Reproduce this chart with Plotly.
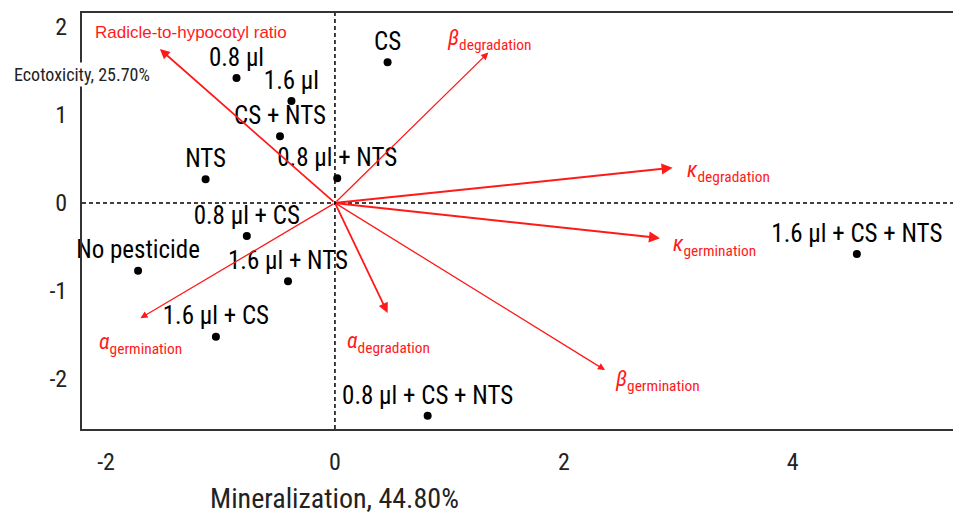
import plotly.graph_objects as go

# ---- data ----
sample_names = ["CS", "0.8 µl", "1.6 µl", "CS + NTS", "0.8 µl + NTS", "NTS",
                "0.8 µl + CS", "No pesticide", "1.6 µl + NTS", "1.6 µl + CS",
                "0.8 µl + CS + NTS", "1.6 µl + CS + NTS"]
sample_x = [0.46, -0.86, -0.38, -0.48, 0.02, -1.13, -0.77, -1.72, -0.41, -1.04, 0.81, 4.56]
sample_y = [1.60, 1.42, 1.16, 0.76, 0.28, 0.27, -0.375, -0.77, -0.89, -1.52, -2.42, -0.58]

vector_names = ["Radicle-to-hypocotyl ratio",
                "<i>β</i><sub>degradation</sub>",
                "<i>κ</i><sub>degradation</sub>",
                "<i>κ</i><sub>germination</sub>",
                "<i>β</i><sub>germination</sub>",
                "<i>α</i><sub>degradation</sub>",
                "<i>α</i><sub>germination</sub>"]
vector_x = [-1.53, 1.34, 2.95, 2.84, 2.36, 0.46, -1.70]
vector_y = [1.75, 1.71, 0.40, -0.40, -1.90, -1.25, -1.31]

x_ticks = [-2, 0, 2, 4]
x_tick_labels = ["-2", "0", "2", "4"]
y_ticks = [-2, -1, 0, 1, 2]
y_tick_labels = ["-2", "-1", "0", "1", "2"]
x_title = "Mineralization, 44.80%"
y_title = "Ecotoxicity, 25.70%"

# ---- styles ----
RED = "#ff1a1a"
FONT = "Roboto Condensed, Liberation Sans Narrow, Arial Narrow, sans-serif"
vec_style = [  # (width, xanchor, xshift, yshift, font size, font family)
    (1.8, "center", 31, 17, 17, "Liberation Sans, Arial, sans-serif"),
    (1.3, "center", 1, 13, 22, FONT),
    (2.0, "left", 12, -4, 22, FONT),
    (2.0, "left", 11, -7, 22, FONT),
    (1.3, "left", 8, -10, 22, FONT),
    (1.8, "center", 1, -30, 22, FONT),
    (1.3, "center", 0, -25, 22, FONT),
]

fig = go.Figure()

fig.add_trace(go.Scatter(
    x=sample_x, y=sample_y, mode="markers+text",
    text=sample_names, textposition="top center",
    textfont=dict(family=FONT, size=25, color="black"),
    marker=dict(color="black", size=8),
    showlegend=False, cliponaxis=False,
))

annotations = []
for name, vx, vy, st in zip(vector_names, vector_x, vector_y, vec_style):
    w, xa, xs, ys, fs, ff = st
    annotations.append(dict(
        x=vx, y=vy, ax=0, ay=0, xref="x", yref="y", axref="x", ayref="y",
        text="", showarrow=True, arrowhead=2, arrowsize=1.1, arrowwidth=w,
        arrowcolor=RED, standoff=0, startstandoff=0,
    ))
    annotations.append(dict(
        x=vx, y=vy, xref="x", yref="y", text=name, showarrow=False,
        xanchor=xa, yanchor="middle", xshift=xs, yshift=ys,
        font=dict(family=ff, size=fs, color=RED),
    ))

annotations.append(dict(
    x=0, y=-0.166, xref="x", yref="paper", text=x_title, showarrow=False,
    xanchor="center", yanchor="middle",
    font=dict(family=FONT, size=28, color="#222"),
))
annotations.append(dict(
    x=0, y=0.853, xref="paper", yref="paper", text=y_title, showarrow=False,
    xanchor="center", yanchor="middle", bgcolor="white",
    font=dict(family=FONT, size=18, color="#222"),
))

shapes = [
    dict(type="line", xref="x", yref="paper", x0=0, x1=0, y0=0, y1=1,
         line=dict(color="black", width=1.5, dash="4px,3px"), layer="below"),
    dict(type="line", xref="paper", yref="y", x0=0, x1=1, y0=0, y1=0,
         line=dict(color="black", width=1.5, dash="4px,3px"), layer="below"),
]

fig.update_layout(
    width=953, height=505,
    margin=dict(l=74, r=0, t=5, b=84, autoexpand=False),
    plot_bgcolor="white", paper_bgcolor="white",
    annotations=annotations, shapes=shapes,
    font=dict(family=FONT, color="#222"),
)
fig.update_xaxes(range=[-2.21, 5.47], tickvals=x_ticks, ticktext=x_tick_labels,
                 showgrid=False, zeroline=False,
                 showline=True, linecolor="#333", linewidth=2, mirror=True,
                 ticks="outside", ticklen=10, tickcolor="rgba(0,0,0,0)",
                 tickfont=dict(family=FONT, size=24, color="#222"))
fig.update_yaxes(range=[-2.57, 2.16], tickvals=y_ticks, ticktext=y_tick_labels,
                 showgrid=False, zeroline=False,
                 showline=True, linecolor="#333", linewidth=2,
                 ticks="outside", ticklen=8, tickcolor="rgba(0,0,0,0)",
                 tickfont=dict(family=FONT, size=24, color="#222"))

fig.write_html("out.html")
